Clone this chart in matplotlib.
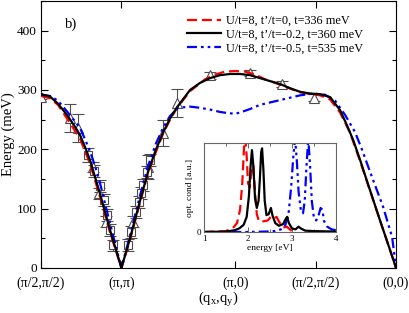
import numpy as np
import matplotlib
matplotlib.use("Agg")
import matplotlib.pyplot as plt
from matplotlib.ticker import MultipleLocator, FixedLocator

plt.rcParams['font.family'] = ['Liberation Serif', 'DejaVu Serif']
plt.rcParams['mathtext.fontset'] = 'custom'
plt.rcParams['mathtext.rm'] = 'Liberation Serif'
plt.rcParams['mathtext.it'] = 'Liberation Serif:italic'

# path coordinate in units of pi/sqrt(2)
tick_pos = [0.0, 1.0, 1.0 + np.sqrt(2), 2.0 + np.sqrt(2), 3.0 + np.sqrt(2)]
tick_labels = ["(π/2,π/2)", "(π,π)", "(π,0)", "(π/2,π/2)", "(0,0)"]

# black: U/t=8, t'/t=-0.2
black_x = [0, 0.112, 0.211, 0.323, 0.423, 0.485, 0.547, 0.609, 0.734, 0.858, 1.0,
           1.107, 1.231, 1.331, 1.430, 1.517, 1.604, 1.692, 1.853, 1.978, 2.102, 2.226,
           2.351, 2.475, 2.600, 2.724, 2.848, 2.973, 3.097, 3.221, 3.346, 3.470, 3.595,
           3.719, 3.806, 3.881, 3.968, 4.055, 4.216, 4.341, 4.415]
black_e = [293, 289, 277, 258, 238, 224, 204, 182, 125, 64, 0,
           50, 113, 162, 200, 228, 252, 271, 300, 312, 320, 325,
           327, 327, 325, 320, 315, 310, 303, 297, 294, 293, 288,
           266, 240, 216, 182, 146, 80, 30, 0]

# red: U/t=8, t'/t=0
red_x = [0, 0.112, 0.211, 0.323, 0.485, 0.609, 0.734, 0.858, 1.0,
         1.107, 1.231, 1.331, 1.430, 1.517, 1.604, 1.692, 1.853, 2.040, 2.164, 2.289,
         2.413, 2.537, 2.662, 2.786, 2.973, 3.221, 3.470, 3.595, 3.719, 3.843, 3.968,
         4.092, 4.216, 4.341, 4.415]
red_e = [290, 286, 275, 252, 218, 176, 120, 60, 0,
         48, 110, 160, 196, 226, 250, 270, 298, 318, 326, 331,
         332, 331, 326, 318, 309, 296, 291, 284, 262, 228, 180,
         130, 80, 30, 0]

# blue: U/t=8, t'/t=-0.5
blue_x = [0, 0.112, 0.211, 0.323, 0.423, 0.485, 0.547, 0.609, 0.672, 0.734, 0.858, 1.0,
          1.107, 1.231, 1.331, 1.430, 1.517, 1.604, 1.704, 1.853, 1.978, 2.102, 2.226,
          2.326, 2.413, 2.475, 2.600, 2.724, 2.973, 3.221, 3.383, 3.532, 3.657, 3.781,
          3.905, 3.993, 4.092, 4.254, 4.366, 4.415]
blue_e = [292, 290, 282, 264, 247, 236, 217, 197, 172, 143, 75, 0,
          55, 122, 172, 210, 236, 256, 270, 272, 270, 267, 263,
          261, 260, 262, 268, 275, 283, 291, 294, 292, 282, 258,
          229, 199, 162, 103, 52, 0]

# experimental points: triangles and squares with error bars
tri_x = [0.0, 0.361, 0.460, 0.647, 0.721, 0.808, 1.144, 1.331, 1.517, 1.692,
         2.102, 2.600, 2.998, 3.396]
tri_e = [288, 253, 236, 170, 126, 78, 78, 170, 228, 278, 325, 328, 310, 287]
tri_err = [4, 23, 23, 9, 9, 9, 9, 20, 22, 24, 6, 5, 5, 6]
sq_x = [0.585, 0.659, 0.734, 0.784, 0.821, 0.858, 0.896,
        1.082, 1.119, 1.182, 1.219, 1.244, 1.269, 1.318, 1.356]
sq_e = [190, 163, 138, 115, 89, 64, 38, 39, 61, 94, 111, 126, 140, 162, 182]
sq_err = [12, 10, 10, 10, 10, 10, 10, 10, 10, 10, 10, 10, 10, 10, 10]

# inset optical conductivity
ins_black_x = [1.0, 1.5, 1.7, 1.8, 1.9, 1.97, 2.02, 2.06, 2.09, 2.12, 2.16, 2.2, 2.24,
               2.27, 2.3, 2.32, 2.35, 2.38, 2.42, 2.47, 2.52, 2.56, 2.62, 2.7, 2.8,
               2.86, 2.89, 2.93, 3.0, 3.08, 3.15, 3.2, 3.3, 3.5, 4.0]
ins_black_y = [0.0, 0.005, 0.02, 0.04, 0.08, 0.17, 0.4, 0.75, 0.92, 0.75, 0.38, 0.27, 0.35,
               0.6, 0.9, 0.94, 0.7, 0.35, 0.19, 0.2, 0.27, 0.18, 0.1, 0.07, 0.09,
               0.15, 0.17, 0.1, 0.04, 0.03, 0.06, 0.04, 0.015, 0.01, 0.005]
ins_red_x = [1.0, 1.5, 1.65, 1.75, 1.82, 1.87, 1.91, 1.94, 1.97, 2.0, 2.04, 2.08, 2.12,
             2.16, 2.2, 2.25, 2.35, 2.45, 2.52, 2.58, 2.65, 2.7, 2.8, 2.88, 2.95, 3.0, 3.1]
ins_red_y = [0.0, 0.01, 0.04, 0.1, 0.25, 0.55, 0.95, 1.05, 0.85, 0.55, 0.5, 0.7, 0.75,
             0.45, 0.2, 0.12, 0.12, 0.13, 0.17, 0.15, 0.17, 0.12, 0.05, 0.06, 0.03, 0.01, 0.0]
ins_blue_x = [1.0, 2.0, 2.4, 2.6, 2.75, 2.85, 2.92, 2.98, 3.03, 3.07, 3.11, 3.15, 3.2,
              3.25, 3.29, 3.33, 3.37, 3.41, 3.45, 3.5, 3.55, 3.6, 3.65, 3.69, 3.73,
              3.8, 3.9, 4.0]
ins_blue_y = [0.0, 0.0, 0.005, 0.01, 0.03, 0.08, 0.2, 0.5, 0.85, 1.05, 0.8, 0.45, 0.25,
              0.21, 0.35, 0.75, 1.05, 0.75, 0.35, 0.15, 0.13, 0.18, 0.27, 0.25, 0.12,
              0.06, 0.03, 0.02]

labels = ["U/t=8, t’/t=0, t=336 meV", "U/t=8, t’/t=-0.2, t=360 meV",
          "U/t=8, t’/t=-0.5, t=535 meV"]

fig = plt.figure(figsize=(4.09, 3.13), dpi=100)
ax = fig.add_axes([41 / 409, 45 / 313, 355 / 409, 267 / 313])

red_style = dict(color='red', lw=1.6, dashes=(4.5, 2.2))
blue_style = dict(color='blue', lw=1.6, dashes=(4.5, 1.8, 1.2, 1.8, 1.2, 1.8))
black_style = dict(color='black', lw=1.6)

ax.errorbar(tri_x, tri_e, yerr=tri_err, fmt='none', ecolor='0.3', elinewidth=0.8,
            capsize=4, capthick=0.8, zorder=2)
ax.errorbar(sq_x, sq_e, yerr=sq_err, fmt='none', ecolor='0.3', elinewidth=0.8,
            capsize=4, capthick=0.8, zorder=2)
ax.plot(tri_x, tri_e, '^', ms=6.5, mfc='white', mec='0.3', mew=0.8, zorder=3)
ax.plot(sq_x, sq_e, 's', ms=6, mfc='white', mec='0.3', mew=0.8, zorder=3)

l1, = ax.plot(red_x, red_e, zorder=4, **red_style)
l3, = ax.plot(blue_x, blue_e, zorder=4, **blue_style)
l2, = ax.plot(black_x, black_e, zorder=5, **black_style)

ax.set_xlim(0, 3 + np.sqrt(2))
ax.set_ylim(0, 450)
ax.set_xticks(tick_pos)
ax.set_xticklabels(tick_labels, fontsize=10)
ax.yaxis.set_major_locator(FixedLocator([0, 100, 200, 300, 400]))
ax.yaxis.set_minor_locator(MultipleLocator(50))
ax.tick_params(which='both', direction='in', top=True, right=True)
ax.tick_params(axis='x', pad=6)
ax.tick_params(axis='y', pad=3, labelsize=9.5)
ax.tick_params(which='major', length=5, width=0.8)
ax.tick_params(which='minor', length=3, width=0.8)
ax.set_ylabel("Energy (meV)", fontsize=10.5)
ax.yaxis.set_label_coords(-0.074, 0.5)
ax.set_xlabel(r"(q$_\mathrm{x}$,q$_\mathrm{y}$)", fontsize=10.5)
ax.xaxis.set_label_coords(0.5, -0.083)
ax.text(0.3, 410, "b)", fontsize=10.5, va='center', ha='left')

leg = ax.legend([l1, l2, l3], labels, loc='upper left', bbox_to_anchor=(0.411, 0.948),
                frameon=False, fontsize=8.8, handlelength=2.8, handletextpad=0.4,
                labelspacing=0.15, borderpad=0, borderaxespad=0)

# inset
axi = fig.add_axes([204 / 409, 81 / 313, 132 / 409, 89 / 313])
axi.plot(ins_red_x, ins_red_y, **red_style)
axi.plot(ins_blue_x, ins_blue_y, **blue_style)
axi.plot(ins_black_x, ins_black_y, **black_style)
axi.set_xlim(1, 4)
axi.set_ylim(0, 1.0)
axi.set_xticks([1, 2, 3, 4])
axi.xaxis.set_minor_locator(MultipleLocator(0.5))
axi.set_yticks([0])
axi.tick_params(which='both', direction='in', top=True, labelsize=6.5, pad=2)
axi.tick_params(which='major', length=3.5, width=0.6, colors='0.3', labelcolor='black')
axi.tick_params(which='minor', length=2, width=0.6, colors='0.3')
for s in axi.spines.values():
    s.set_color('0.4')
    s.set_linewidth(0.8)
axi.set_xlabel("energy [eV]", fontsize=6.8, labelpad=1)
axi.set_ylabel("opt. cond [a.u.]", fontsize=6.8, labelpad=2)

fig.savefig("out.png", dpi=100)
